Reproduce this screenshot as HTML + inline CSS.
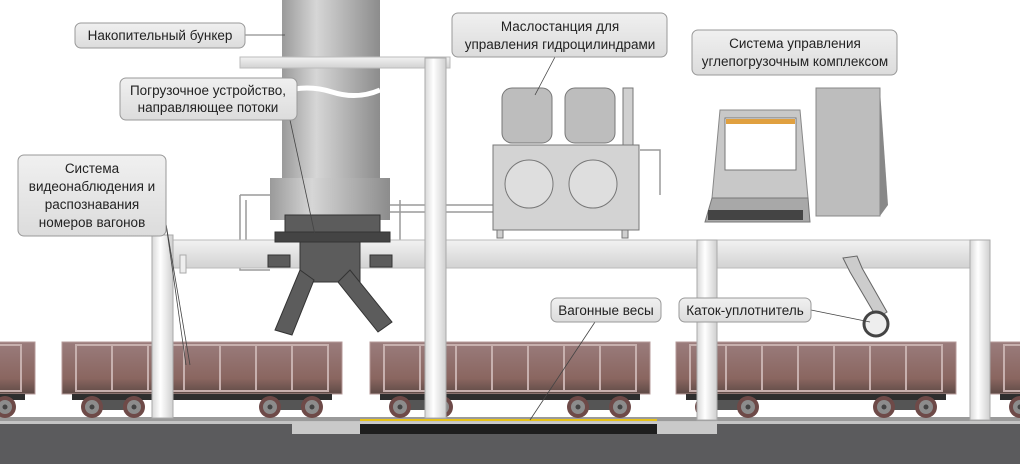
<!DOCTYPE html>
<html><head><meta charset="utf-8"><style>
html,body{margin:0;padding:0;background:#fff;}
svg{display:block;}
text{font-family:"Liberation Sans",sans-serif;font-size:13.5px;fill:#222;}
</style></head><body>
<svg width="1020" height="464" viewBox="0 0 1020 464" xmlns="http://www.w3.org/2000/svg">
<defs>
<linearGradient id="wag" x1="0" y1="0" x2="0" y2="1"><stop offset="0" stop-color="#9a7c7c"/><stop offset="0.7" stop-color="#8a6660"/><stop offset="1" stop-color="#5e4a46"/></linearGradient>
<linearGradient id="col" x1="0" y1="0" x2="1" y2="0"><stop offset="0" stop-color="#d8d8d8"/><stop offset="0.4" stop-color="#ffffff"/><stop offset="1" stop-color="#cfcfcf"/></linearGradient>
<linearGradient id="cyl" x1="0" y1="0" x2="1" y2="0"><stop offset="0" stop-color="#9a9a9a"/><stop offset="0.35" stop-color="#d6d6d6"/><stop offset="1" stop-color="#8c8c8c"/></linearGradient>
<linearGradient id="beam" x1="0" y1="0" x2="0" y2="1"><stop offset="0" stop-color="#f2f2f2"/><stop offset="1" stop-color="#d2d2d2"/></linearGradient>
<linearGradient id="lbl" x1="0" y1="0" x2="0" y2="1"><stop offset="0" stop-color="#f0f0f0"/><stop offset="1" stop-color="#dcdcdc"/></linearGradient>
<g id="wheel"><circle r="11" fill="#6e4a48"/><circle r="7" fill="#8c8c8c"/><circle r="2.5" fill="#444"/></g>
<g id="wagon">
 <rect x="0" y="0" width="280" height="52" fill="url(#wag)" stroke="#b59a98" stroke-width="1"/>
 <g stroke="#c7b0ae" stroke-width="2" fill="none">
  <rect x="14" y="3" width="252" height="46"/>
  <line x1="50" y1="3" x2="50" y2="49"/><line x1="86" y1="3" x2="86" y2="49"/><line x1="122" y1="3" x2="122" y2="49"/><line x1="158" y1="3" x2="158" y2="49"/><line x1="194" y1="3" x2="194" y2="49"/><line x1="230" y1="3" x2="230" y2="49"/>
 </g>
 <rect x="10" y="52" width="260" height="6" fill="#2e2e2e"/>
 <rect x="20" y="58" width="60" height="10" rx="3" fill="#555"/>
 <rect x="200" y="58" width="60" height="10" rx="3" fill="#555"/>
 <use href="#wheel" x="30" y="65"/><use href="#wheel" x="72" y="65"/>
 <use href="#wheel" x="208" y="65"/><use href="#wheel" x="250" y="65"/>
</g>
</defs>

<!-- ground -->
<rect x="0" y="424" width="1020" height="40" fill="#5b5b5d"/>
<rect x="0" y="417" width="1020" height="4" fill="#9a9a9a"/>
<rect x="0" y="421" width="1020" height="3" fill="#c4c4c4"/>
<rect x="292" y="422" width="425" height="12" fill="#c9c9c9"/>
<rect x="360" y="424" width="297" height="10" fill="#1e1e1e"/>
<rect x="360" y="419" width="297" height="2" fill="#e6c21a"/>

<!-- wagons -->
<g transform="translate(-245,342)"><use href="#wagon"/></g>
<g transform="translate(62,342)"><use href="#wagon"/></g>
<g transform="translate(370,342)"><use href="#wagon"/></g>
<g transform="translate(676,342)"><use href="#wagon"/></g>
<g transform="translate(990,342)"><use href="#wagon"/></g>

<!-- bunker -->
<rect x="282" y="0" width="98" height="180" fill="url(#cyl)"/>
<path d="M282 92 q25 -8 50 0 t48 -2" stroke="#fff" stroke-width="5" fill="none"/>
<rect x="270" y="178" width="120" height="42" fill="url(#cyl)"/>
<!-- pipes -->
<g stroke="#9a9a9a" stroke-width="1.5" fill="none">
 <path d="M240 195 h30 M240 195 v75 h30 M246 200 v65"/>
 <path d="M390 205 h105 M390 212 h105 M400 200 v40"/>
 <path d="M640 150 h20 v45"/>
</g>

<!-- beams -->
<rect x="240" y="57" width="210" height="11" fill="url(#beam)" stroke="#bbb"/>
<rect x="172" y="240" width="818" height="28" fill="url(#beam)" stroke="#bbb"/>
<rect x="180" y="255" width="6" height="18" fill="#eee" stroke="#aaa"/>

<!-- loader (in front of beam) -->
<g fill="#5c5c5c" stroke="#333" stroke-width="1">
 <rect x="285" y="215" width="95" height="22"/>
 <rect x="275" y="232" width="115" height="10" fill="#444"/>
 <rect x="300" y="242" width="60" height="40"/>
 <polygon points="300,270 314,280 292,335 275,330"/>
 <polygon points="350,270 338,282 378,332 392,322"/>
 <rect x="268" y="255" width="22" height="12"/>
 <rect x="370" y="255" width="22" height="12"/>
</g>

<!-- columns -->
<rect x="152" y="235" width="21" height="183" fill="url(#col)" stroke="#aaa"/>
<rect x="425" y="58" width="21" height="360" fill="url(#col)" stroke="#aaa"/>
<rect x="697" y="240" width="20" height="180" fill="url(#col)" stroke="#aaa"/>
<rect x="970" y="240" width="20" height="180" fill="url(#col)" stroke="#aaa"/>

<!-- oil station -->
<g stroke="#777" fill="#d0d0d0">
 <rect x="502" y="88" width="50" height="55" rx="10" fill="#bdbdbd"/>
 <rect x="565" y="88" width="50" height="55" rx="10" fill="#bdbdbd"/>
 <rect x="623" y="88" width="10" height="60"/>
 <rect x="493" y="145" width="146" height="85" fill="#d3d3d3"/>
 <circle cx="529" cy="184" r="24" fill="#dedede"/>
 <circle cx="593" cy="184" r="24" fill="#dedede"/>
 <rect x="497" y="230" width="6" height="8"/><rect x="622" y="230" width="6" height="8"/>
</g>
<!-- computer -->
<polygon points="720,110 800,110 808,198 712,198" fill="#c8c8c8" stroke="#888"/>
<rect x="725" y="118" width="71" height="52" fill="#fff" stroke="#777"/>
<rect x="726" y="119" width="69" height="5" fill="#e0a040"/>
<polygon points="712,198 808,198 810,222 705,222" fill="#a8a8a8" stroke="#777"/>
<rect x="708" y="210" width="95" height="10" fill="#444"/>
<polygon points="816,88 880,88 880,216 816,216" fill="#bdbdbd" stroke="#888"/>
<polygon points="880,90 888,205 880,216" fill="#888"/>

<!-- roller -->
<g stroke="#666" fill="#ccc">
 <polygon points="843,258 857,256 862,268 887,312 877,318 850,272"/>
 <circle cx="876" cy="324" r="12" fill="#eee" stroke="#444" stroke-width="3"/>
</g>

<!-- leader lines -->
<g stroke="#444" stroke-width="0.8">
 <line x1="245" y1="35" x2="285" y2="35"/>
 <line x1="290" y1="120" x2="315" y2="235"/>
 <line x1="166" y1="224" x2="186" y2="365"/>
 <line x1="166" y1="224" x2="190" y2="365"/>
 <line x1="555" y1="57" x2="535" y2="95"/>
 <line x1="595" y1="322" x2="530" y2="420"/>
 <line x1="811" y1="310" x2="870" y2="322"/>
</g>

<!-- labels -->
<g stroke="#999" fill="url(#lbl)">
 <rect x="75" y="23" width="170" height="25" rx="6"/>
 <rect x="120" y="78" width="177" height="42" rx="6"/>
 <rect x="18" y="155" width="148" height="81" rx="6"/>
 <rect x="452" y="13" width="215" height="44" rx="6"/>
 <rect x="692" y="30" width="205" height="45" rx="6"/>
 <rect x="551" y="298" width="110" height="24" rx="6"/>
 <rect x="679" y="298" width="132" height="24" rx="6"/>
</g>
<g text-anchor="middle">
 <text x="160" y="40">Накопительный бункер</text>
 <text x="208" y="95">Погрузочное устройство,</text>
 <text x="208" y="112">направляющее потоки</text>
 <text x="92" y="173">Система</text>
 <text x="92" y="191">видеонаблюдения и</text>
 <text x="92" y="209">распознавания</text>
 <text x="92" y="227">номеров вагонов</text>
 <text x="560" y="31">Маслостанция для</text>
 <text x="560" y="49">управления гидроцилиндрами</text>
 <text x="795" y="48">Система управления</text>
 <text x="795" y="66">углепогрузочным комплексом</text>
 <text x="606" y="315">Вагонные весы</text>
 <text x="745" y="315">Каток-уплотнитель</text>
</g>
</svg>
</body></html>
